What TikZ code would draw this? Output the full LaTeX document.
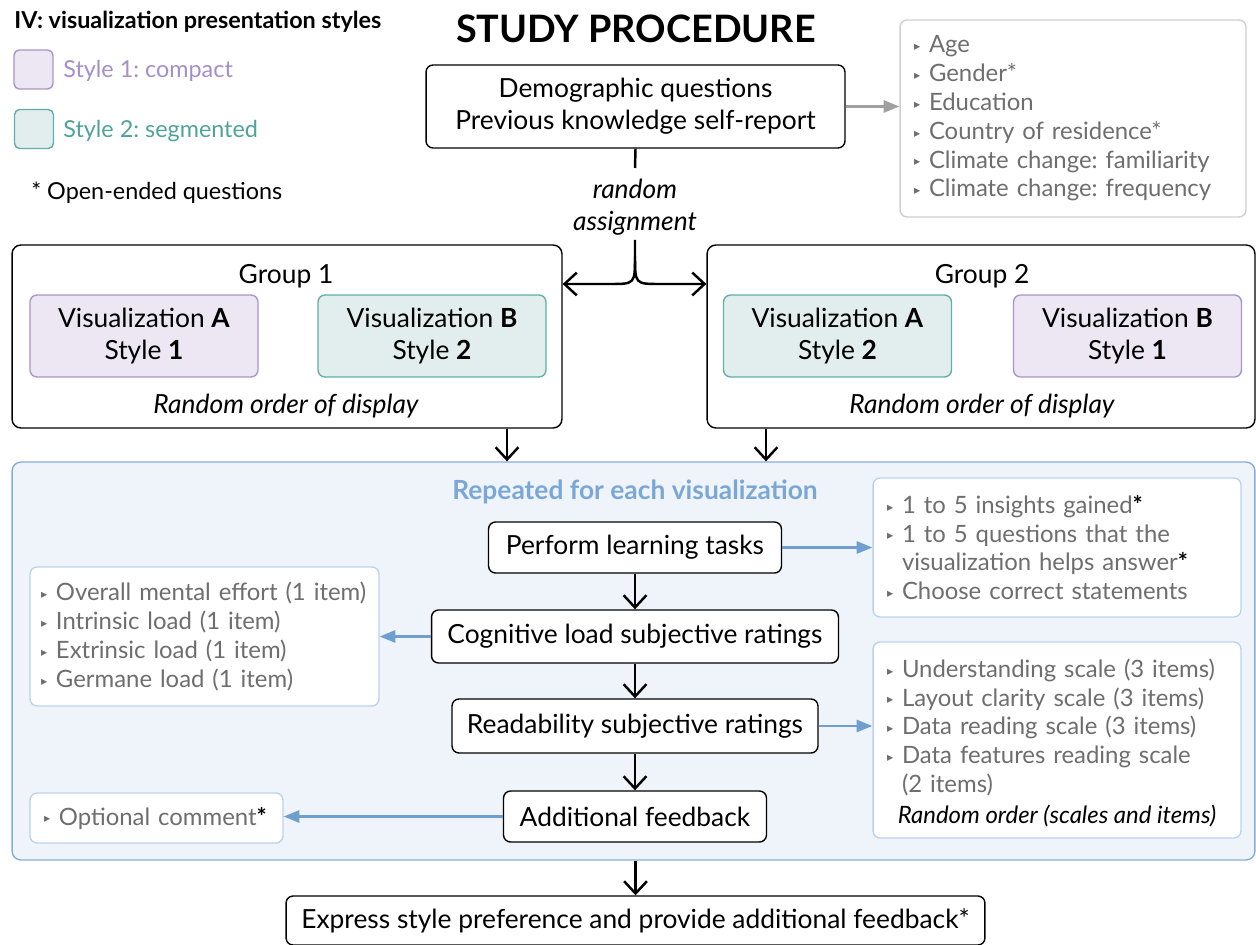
\documentclass[tikz,border=0pt]{standalone}
\usepackage{fontspec}
\setmainfont{Lato}
\newfontfamily\symfont{DejaVu Sans}
\usetikzlibrary{arrows.meta}
\tikzset{>={Straight Barb[length=7pt,width=13pt]}}
\frenchspacing
\definecolor{lavfill}{HTML}{ECE7F2}
\definecolor{lavdraw}{HTML}{A896C9}
\definecolor{lavtext}{HTML}{A58FC9}
\definecolor{tealfill}{HTML}{E2EEED}
\definecolor{tealdraw}{HTML}{62AFA8}
\definecolor{tealtext}{HTML}{4FA39B}
\definecolor{bluefill}{HTML}{EEF4F9}
\definecolor{bluedraw}{HTML}{86AEDA}
\definecolor{bluetext}{HTML}{7BA7D7}
\definecolor{bluearr}{HTML}{6E9FCF}
\definecolor{bluelt}{HTML}{BCD3EC}
\definecolor{graytext}{HTML}{6E6E6E}
\definecolor{graybd}{HTML}{CFCFCF}
\definecolor{grayarr}{HTML}{A0A0A0}
\newcommand{\mainsz}{\fontsize{15}{18.2}\selectfont}
\newcommand{\listsz}{\fontsize{13.6}{16.4}\selectfont}
\newcommand{\legsz}{\fontsize{13.3}{15}\selectfont}
\newcommand{\titlesz}{\fontsize{21.5}{24}\selectfont}
\newcommand{\tri}{{\symfont\fontsize{7}{7}\selectfont\raisebox{1.2pt}{▸}}\hspace{5pt}}
\begin{document}
\begin{tikzpicture}[x=0.02cm,y=-0.02cm,
box/.style={draw,line width=0.8pt,rounded corners=4pt,fill=white,align=center,font=\mainsz},
visbox/.style={draw,line width=0.8pt,rounded corners=4pt,align=center,font=\mainsz,minimum width=4.56cm,minimum height=1.64cm},
glist/.style={draw=graybd,line width=0.8pt,rounded corners=4pt,fill=white,align=left,font=\listsz,text=graytext,inner xsep=0.28cm},
blist/.style={glist,draw=bluelt},
keybox/.style={draw,line width=0.8pt,rounded corners=3pt,minimum size=0.78cm},
lbl/.style={yshift=-0.06cm},
conn/.style={line width=1.4pt},
barrow/.style={-{Triangle[length=9pt,width=7pt]},line width=1.3pt,draw=bluearr,fill=bluearr},
garrow/.style={-{Triangle[length=9pt,width=7pt]},line width=1.3pt,draw=grayarr,fill=grayarr}]
\useasboundingbox (0,0) rectangle (1256,945);
\node[lbl,font=\titlesz\bfseries] (title) at (636,26) {STUDY PROCEDURE};
\node[anchor=west,inner sep=0pt,font=\legsz\bfseries] (iv) at (14,22) {IV: visualization presentation styles};
\node[keybox,fill=lavfill,draw=lavdraw] (k1) at (33.5,69.5) {};
\node[anchor=west,inner sep=0pt,text=lavtext,font=\legsz] (k1t) at (63,71) {Style 1: compact};
\node[keybox,fill=tealfill,draw=tealdraw] (k2) at (34,129) {};
\node[anchor=west,inner sep=0pt,text=tealtext,font=\legsz] (k2t) at (63,131) {Style 2: segmented};
\node[anchor=west,inner sep=0pt,font=\legsz] (oe) at (31,193) {* Open-ended questions};
\node[box,minimum width=8.38cm,minimum height=1.66cm] (demo) at (635.5,106.5) {Demographic questions\\Previous knowledge self-report};
\node[glist,text width=6.36cm,minimum height=3.94cm] (age) at (1073,118.5) {\tri Age\\ \tri Gender*\\ \tri Education\\ \tri Country of residence*\\ \tri Climate change: familiarity\\ \tri Climate change: frequency};
\draw[garrow] (demo.east) -- (demo.east -| age.west);
\node[lbl,font=\mainsz\itshape,align=center] (ra) at (635,204) {random\\assignment};
\coordinate (rtop) at (635,168);
\coordinate (rbot) at (635,240);
\coordinate (fork) at (635,256);
\node[draw,line width=0.8pt,rounded corners=5pt,minimum width=11cm,minimum height=3.66cm] (group1) at (287,336.5) {};
\node[draw,line width=0.8pt,rounded corners=5pt,minimum width=10.96cm,minimum height=3.66cm] (group2) at (981,336.5) {};
\draw[conn] (demo.south) -- (rtop);
\draw[conn,->] (rbot) -- (fork) .. controls (635,284) .. (610,284) -- (group1.east |- 610,284);
\draw[conn,->] (fork) .. controls (635,284) .. (660,284) -- (group2.west |- 660,284);
\node[lbl,font=\mainsz] (g1t) at (286,273) {Group 1};
\node[lbl,font=\mainsz] (g2t) at (982,273) {Group 2};
\node[visbox,fill=lavfill,draw=lavdraw] (va1) at (144,336) {Visualization \textbf{A}\\Style \textbf{1}};
\node[visbox,fill=tealfill,draw=tealdraw] (vb1) at (432,336) {Visualization \textbf{B}\\Style \textbf{2}};
\node[visbox,fill=tealfill,draw=tealdraw] (va2) at (837.5,336) {Visualization \textbf{A}\\Style \textbf{2}};
\node[visbox,fill=lavfill,draw=lavdraw] (vb2) at (1127.5,336) {Visualization \textbf{B}\\Style \textbf{1}};
\node[lbl,font=\mainsz\itshape] (o1) at (286,403) {Random order of display};
\node[lbl,font=\mainsz\itshape] (o2) at (982,403) {Random order of display};
\node[draw=bluedraw,fill=bluefill,line width=0.8pt,rounded corners=5pt,minimum width=24.86cm,minimum height=7.96cm] (rep) at (633.5,661) {};
\draw[conn,->] (group1.south -| 507,0) -- (rep.north -| 507,0);
\draw[conn,->] (group2.south -| 766,0) -- (rep.north -| 766,0);
\node[lbl,font=\mainsz\bfseries,text=bluetext] (rept) at (635,489) {Repeated for each visualization};
\node[box,minimum width=5.86cm,minimum height=1.02cm] (learn) at (635,547.5) {Perform learning tasks};
\node[box,minimum width=8.14cm,minimum height=1.06cm] (cog) at (635,636.5) {Cognitive load subjective ratings};
\node[box,minimum width=7.32cm,minimum height=1.08cm] (read) at (635,726) {Readability subjective ratings};
\node[box,minimum width=5.26cm,minimum height=1.02cm] (addf) at (635,816.5) {Additional feedback};
\node[box,minimum width=13.98cm,minimum height=0.98cm] (final) at (635.5,920.5) {Express style preference and provide additional feedback*};
\draw[conn,->] (learn) -- (cog);
\draw[conn,->] (cog) -- (read);
\draw[conn,->] (read) -- (addf);
\draw[conn,->] (final.north |- rep.south) -- (final.north);
\node[blist,text width=6.8cm,minimum height=2.78cm] (ins) at (1057,547.5) {\tri 1 to 5 insights gained{\color{black}\bfseries*}\\ \tri 1 to 5 questions that the\\ \phantom{\tri}visualization helps answer{\color{black}\bfseries*}\\ \tri Choose correct statements};
\node[blist,inner xsep=0.22cm,text width=6.54cm,minimum height=2.78cm] (cogl) at (204.5,636.5) {\tri Overall mental effort (1 item)\\ \tri Intrinsic load (1 item)\\ \tri Extrinsic load (1 item)\\ \tri Germane load (1 item)};
\node[blist,text width=6.8cm,minimum height=3.92cm] (readl) at (1057,740) {\tri Understanding scale (3 items)\\ \tri Layout clarity scale (3 items)\\ \tri Data reading scale (3 items)\\ \tri Data features reading scale\\ \phantom{\tri}(2 items)\\ \mbox{}};
\node[lbl,font=\listsz\itshape] (ro) at (1057,813) {Random order (scales and items)};
\node[blist,text width=4.5cm,minimum height=1cm] (opt) at (156.5,818) {\tri Optional comment{\color{black}\bfseries*}};
\draw[barrow] (learn) -- (ins);
\draw[barrow] (cog) -- (cogl);
\draw[barrow] (read.east) -- (read.east -| readl.west);
\draw[barrow] (addf.west) -- (addf.west -| opt.east);
\end{tikzpicture}
\end{document}
